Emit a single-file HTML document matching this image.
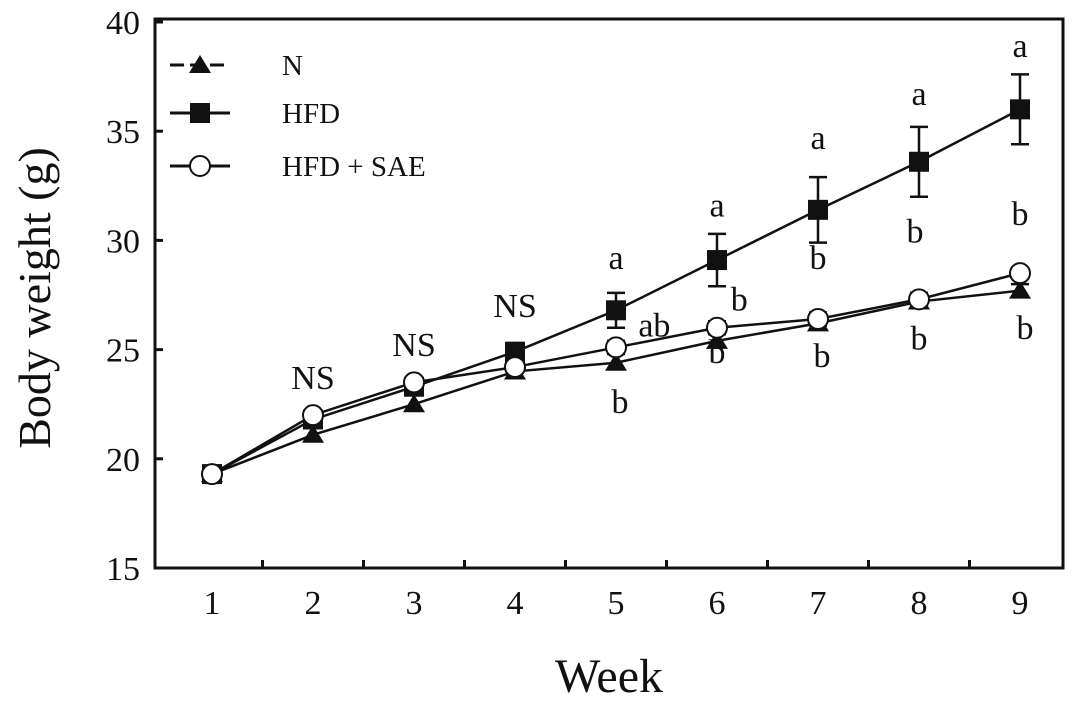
<!DOCTYPE html>
<html><head><meta charset="utf-8"><style>
body{margin:0;background:#fff}
svg text{font-family:"Liberation Serif",serif;fill:#111}
</style></head><body>
<svg id="c" width="1087" height="703" viewBox="0 0 1087 703"></svg>
<script>
const weeks=[1,2,3,4,5,6,7,8,9];
const nVals=[19.3,21.1,22.5,24.0,24.4,25.4,26.2,27.2,27.7];
const nErr=[0,0,0,0,0,0,0,0.3,0.3];
const hfdVals=[19.3,21.8,23.3,24.9,26.8,29.1,31.4,33.6,36.0];
const hfdErr=[0,0,0,0.4,0.8,1.2,1.5,1.6,1.6];
const saeVals=[19.3,22.0,23.5,24.2,25.1,26.0,26.4,27.3,28.5];
const saeErr=[0,0,0,0,0.3,0.3,0.3,0.3,0.2];
const yTicks=[15,20,25,30,35,40];
const annotations=[
 {w:2,v:23.7,t:"NS"},{w:3,v:25.2,t:"NS"},{w:4,v:27.0,t:"NS"},
 {w:5,v:29.2,t:"a"},{w:5.38,v:26.1,t:"ab"},{w:5.04,v:22.6,t:"b"},
 {w:6,v:31.6,t:"a"},{w:6.22,v:27.3,t:"b"},{w:6,v:24.9,t:"b"},
 {w:7,v:34.7,t:"a"},{w:7,v:29.2,t:"b"},{w:7.04,v:24.7,t:"b"},
 {w:8,v:36.7,t:"a"},{w:7.96,v:30.4,t:"b"},{w:8,v:25.5,t:"b"},
 {w:9,v:38.9,t:"a"},{w:9,v:31.2,t:"b"},{w:9.05,v:26.0,t:"b"}
];
const L=155,R=1063,T=19,B=568;
const X=w=>212+(w-1)*101;
const Y=v=>B-(v-15)*(B-22)/25;
const svg=document.getElementById('c');
const NS='http://www.w3.org/2000/svg';
function mk(tag,a,parent){const e=document.createElementNS(NS,tag);for(const k in a)e.setAttribute(k,a[k]);(parent||svg).appendChild(e);return e;}
let f=mk('rect',{x:L,y:T,width:R-L,height:B-T,fill:'none',stroke:'#111','stroke-width':3});


yTicks.forEach(v=>{
 let t=mk('line',{x1:L,x2:L+8,y1:Y(v),y2:Y(v),stroke:'#111','stroke-width':3});
 
 
 let l=mk('text',{x:140,y:Y(v)+12,'text-anchor':'end','font-size':34});
 l.textContent=v;
 
 
});
weeks.forEach(w=>{
 if(w<9){let t=mk('line',{x1:X(w)+50.5,x2:X(w)+50.5,y1:B,y2:B-8,stroke:'#111','stroke-width':3});
 
 }
 let l=mk('text',{x:X(w),y:614,'text-anchor':'middle','font-size':34});
 l.textContent=w;
 
 
});
let xt=mk('text',{x:609,y:692,'text-anchor':'middle','font-size':48});
xt.textContent='Week';


let yt=mk('text',{x:0,y:0,'text-anchor':'middle','font-size':46,transform:'translate(50,298) rotate(-90)'});
yt.textContent='Body weight (g)';


function marker(type,x,y,g){
 if(type==='tri') return mk('polygon',{points:`${x},${y-10} ${x-11},${y+8} ${x+11},${y+8}`,fill:'#111'},g);
 if(type==='sq') return mk('rect',{x:x-10,y:y-10,width:20,height:20,fill:'#111'},g);
 return mk('circle',{cx:x,cy:y,r:10,fill:'#fff',stroke:'#111','stroke-width':2},g);
}
function series(vals,errs,type,name){
 const g=mk('g',{});
 
 
 let p=mk('polyline',{points:vals.map((v,i)=>X(weeks[i])+','+Y(v)).join(' '),fill:'none',stroke:'#111','stroke-width':2.5},g);
 
 
 vals.forEach((v,i)=>{
  const x=X(weeks[i]);
  if(errs[i]>0){
   let e=mk('path',{d:`M${x},${Y(v+errs[i])}V${Y(v-errs[i])}M${x-9},${Y(v+errs[i])}H${x+9}M${x-9},${Y(v-errs[i])}H${x+9}`,stroke:'#111','stroke-width':2.5,fill:'none'},g);
   
   
  }
  let m=marker(type,x,Y(v),g);
  
  
 });
}
series(nVals,nErr,'tri','n');
series(hfdVals,hfdErr,'sq','hfd');
series(saeVals,saeErr,'circ','hfd-sae');
annotations.forEach(a=>{
 let t=mk('text',{x:X(a.w),y:Y(a.v)+11,'text-anchor':'middle','font-size':34});
 t.textContent=a.t;
 
 
});
const leg=[['tri','N',65,'legend-n'],['sq','HFD',113,'legend-hfd'],['circ','HFD + SAE',166,'legend-hfd-sae']];
leg.forEach(([type,lab,y,nm])=>{
 const g=mk('g',{});
 
 
 mk('line',{x1:170,x2:230,y1:y,y2:y,stroke:'#111','stroke-width':3,'stroke-dasharray':type==='tri'?'14,6':'none'},g);
 marker(type,200,y,g);
 let t=mk('text',{x:282,y:y+10,'font-size':29},g);
 t.textContent=lab;
});
</script>
</body></html>
